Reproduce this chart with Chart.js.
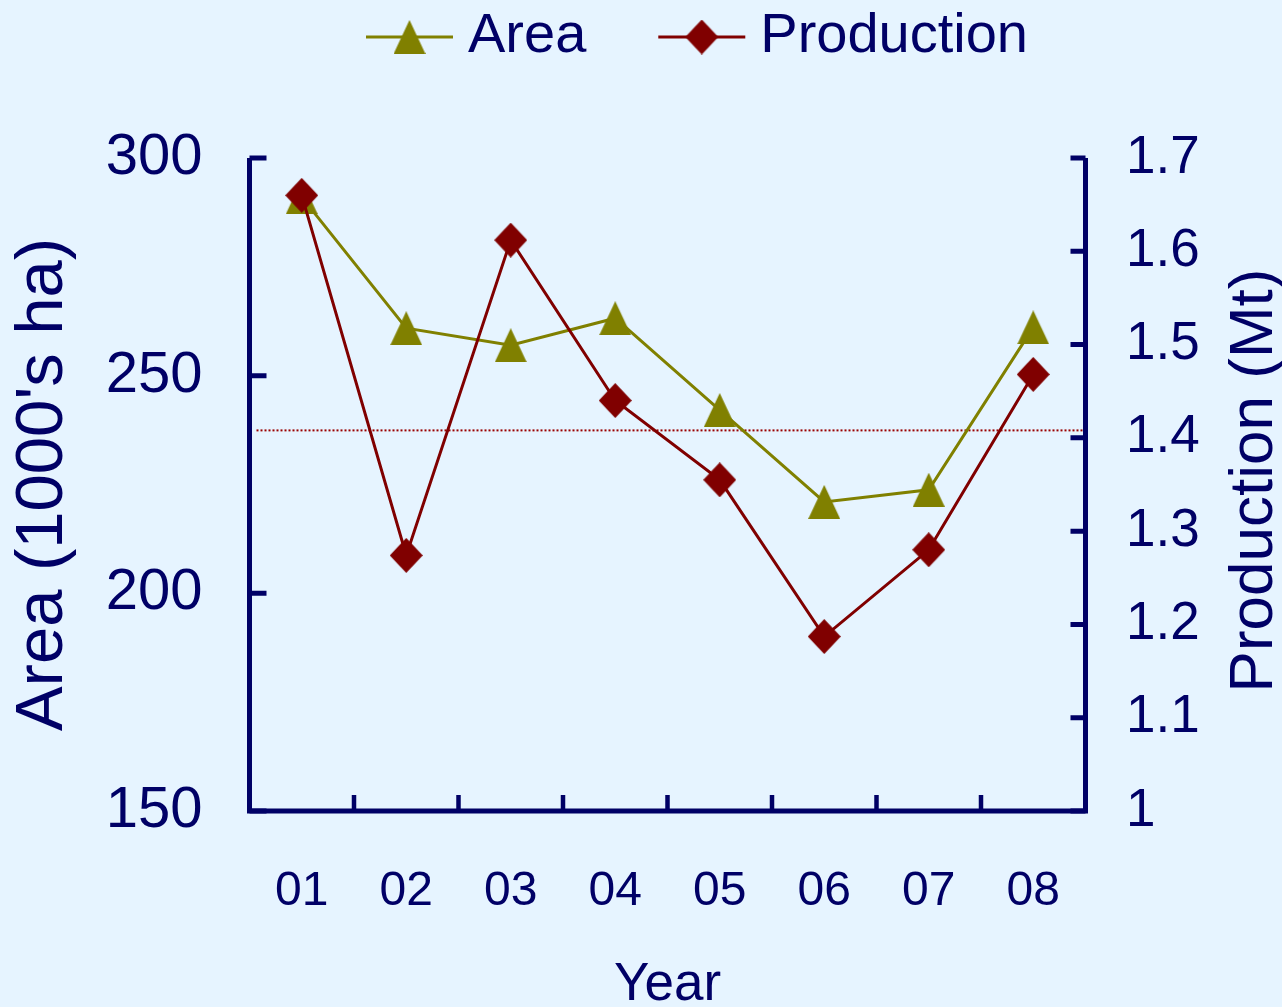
<!DOCTYPE html>
<html>
<head>
<meta charset="utf-8">
<script src="https://cdn.jsdelivr.net/npm/chart.js@4.4.1/dist/chart.umd.min.js"></script>
<style>
  html, body { margin: 0; padding: 0; background: #E6F4FF; }
  #wrap { width: 1282px; height: 1007px; }
</style>
</head>
<body>
<div id="wrap"><canvas id="chart" width="1282" height="1007"></canvas></div>
<script>
// Harvested area and production by year
const years = ['01', '02', '03', '04', '05', '06', '07', '08'];
const areaValues = [291.0, 260.9, 257.0, 263.2, 242.1, 221.0, 223.8, 261.1];
const productionValues = [1.660, 1.274, 1.612, 1.440, 1.355, 1.187, 1.280, 1.468];
const productionMean = 1.408;

const areaTicks = [150, 200, 250, 300];
const productionTicks = [1.0, 1.1, 1.2, 1.3, 1.4, 1.5, 1.6, 1.7];
const productionTickLabels = ['1', '1.1', '1.2', '1.3', '1.4', '1.5', '1.6', '1.7'];

const NAVY = '#000066';
const OLIVE = '#808000';
const MAROON = '#800000';
const BG = '#E6F4FF';
const SANS = "'Liberation Sans', Arial, Helvetica, sans-serif";
const NARROW = "'Liberation Sans Narrow', 'Arial Narrow', 'Liberation Sans', sans-serif";

// Marker glyphs
function makeMarker(shape, w, h, color) {
  const c = document.createElement('canvas');
  c.width = w; c.height = h;
  const g = c.getContext('2d');
  g.fillStyle = color;
  g.beginPath();
  if (shape === 'triangle') {
    g.moveTo(w / 2, 0); g.lineTo(w, h); g.lineTo(0, h);
  } else {
    g.moveTo(w / 2, 0); g.lineTo(w, h / 2); g.lineTo(w / 2, h); g.lineTo(0, h / 2);
  }
  g.closePath();
  g.fill();
  return c;
}
const triangleMarker = makeMarker('triangle', 32, 34, OLIVE);
const diamondMarker = makeMarker('diamond', 33, 35, MAROON);

const background = {
  id: 'background',
  beforeDraw(chart) {
    const ctx = chart.ctx;
    ctx.save();
    ctx.fillStyle = BG;
    ctx.fillRect(0, 0, chart.width, chart.height);
    ctx.restore();
  }
};

// Dotted line at the mean production level
const meanLine = {
  id: 'meanLine',
  beforeDatasetsDraw(chart) {
    const { ctx, chartArea } = chart;
    const y = chart.scales.y1.getPixelForValue(productionMean);
    ctx.save();
    ctx.strokeStyle = '#9A0000';
    ctx.lineWidth = 2;
    ctx.setLineDash([2, 2]);
    ctx.beginPath();
    ctx.moveTo(chartArea.left + 7, y);
    ctx.lineTo(chartArea.right, y);
    ctx.stroke();
    ctx.restore();
  }
};

// Axis frame with inward tick marks
const frame = {
  id: 'frame',
  afterDraw(chart) {
    const { ctx, chartArea: a, scales } = chart;
    ctx.save();
    ctx.strokeStyle = NAVY;
    ctx.lineWidth = 5;
    ctx.lineJoin = 'miter';
    ctx.beginPath();
    ctx.moveTo(a.left, a.top);
    ctx.lineTo(a.left, a.bottom);
    ctx.lineTo(a.right, a.bottom);
    ctx.lineTo(a.right, a.top);
    ctx.stroke();

    ctx.beginPath();
    scales.y.ticks.forEach(t => {
      const y = scales.y.getPixelForValue(t.value);
      ctx.moveTo(a.left, y); ctx.lineTo(a.left + 17, y);
    });
    scales.y1.ticks.forEach(t => {
      const y = scales.y1.getPixelForValue(t.value);
      ctx.moveTo(a.right, y); ctx.lineTo(a.right - 15, y);
    });
    ctx.stroke();

    ctx.lineWidth = 4.5;
    ctx.beginPath();
    for (let i = 0; i < years.length - 1; i++) {
      const x = (scales.x.getPixelForValue(i) + scales.x.getPixelForValue(i + 1)) / 2;
      ctx.moveTo(x, a.bottom); ctx.lineTo(x, a.bottom - 16);
    }
    ctx.stroke();
    ctx.restore();
  }
};

// Right axis title, reading bottom to top
const rightTitle = {
  id: 'rightTitle',
  afterDraw(chart) {
    const { ctx, chartArea: a } = chart;
    ctx.save();
    ctx.translate(1254.5, (a.top + a.bottom) / 2 - 4);
    ctx.rotate(-Math.PI / 2);
    ctx.fillStyle = NAVY;
    ctx.font = '62px ' + SANS;
    ctx.textAlign = 'center';
    ctx.textBaseline = 'middle';
    ctx.fillText('Production (Mt)', 0, 0);
    ctx.restore();
  }
};

// Legend: line sample with marker, then label
const lineLegend = {
  id: 'lineLegend',
  afterDraw(chart) {
    const ctx = chart.ctx;
    const y = 37;
    let x = 366;
    ctx.save();
    ctx.font = '56px ' + SANS;
    ctx.textBaseline = 'middle';
    ctx.textAlign = 'left';
    chart.data.datasets.forEach(ds => {
      ctx.strokeStyle = ds.borderColor;
      ctx.lineWidth = 3;
      ctx.beginPath();
      ctx.moveTo(x, y); ctx.lineTo(x + 87, y);
      ctx.stroke();
      const m = ds.pointStyle;
      ctx.drawImage(m, x + 43.5 - m.width / 2, y - m.height / 2);
      ctx.fillStyle = NAVY;
      const tx = x + 102;
      ctx.fillText(ds.label, tx, y);
      x = tx + ctx.measureText(ds.label).width + 72;
    });
    ctx.restore();
  }
};

new Chart(document.getElementById('chart'), {
  type: 'line',
  data: {
    labels: years,
    datasets: [
      {
        label: 'Area',
        data: areaValues,
        yAxisID: 'y',
        borderColor: OLIVE,
        backgroundColor: OLIVE,
        borderWidth: 3,
        tension: 0,
        fill: false,
        pointStyle: triangleMarker,
        pointRadius: 17,
        order: 1
      },
      {
        label: 'Production',
        data: productionValues,
        yAxisID: 'y1',
        borderColor: MAROON,
        backgroundColor: MAROON,
        borderWidth: 3,
        tension: 0,
        fill: false,
        pointStyle: diamondMarker,
        pointRadius: 17,
        order: 0
      }
    ]
  },
  options: {
    responsive: false,
    animation: false,
    devicePixelRatio: 1,
    events: [],
    layout: { padding: { top: 158, left: 0, right: 0, bottom: 0 } },
    plugins: {
      legend: { display: false },
      tooltip: { enabled: false }
    },
    scales: {
      x: {
        type: 'category',
        offset: true,
        grid: { display: false, drawTicks: false },
        border: { display: false },
        ticks: {
          color: NAVY,
          font: { family: NARROW, size: 48 },
          padding: 52,
          maxRotation: 0,
          minRotation: 0,
          autoSkip: false
        },
        title: {
          display: true,
          text: 'Year',
          color: NAVY,
          font: { family: NARROW, size: 53, lineHeight: 1 },
          padding: { top: 0, bottom: -5 }
        },
        afterFit(s) { s.height = 196; }
      },
      y: {
        position: 'left',
        min: 150,
        max: 300,
        afterBuildTicks(s) { s.ticks = areaTicks.map(v => ({ value: v })); },
        grid: { display: false, drawTicks: false },
        border: { display: false },
        ticks: {
          color: NAVY,
          font: { family: SANS, size: 58 },
          padding: 47
        },
        title: {
          display: true,
          text: "Area (1000's ha)",
          color: NAVY,
          font: { family: SANS, size: 67, lineHeight: 1 },
          padding: { top: 10, bottom: 0 }
        },
        afterFit(s) { s.width = 249.5; }
      },
      y1: {
        position: 'right',
        min: 1,
        max: 1.7,
        afterBuildTicks(s) { s.ticks = productionTicks.map(v => ({ value: v })); },
        grid: { display: false, drawTicks: false },
        border: { display: false },
        ticks: {
          color: NAVY,
          font: { family: SANS, size: 53 },
          padding: 40.5,
          callback: (v, i) => productionTickLabels[i]
        },
        afterFit(s) { s.width = 196.5; }
      }
    }
  },
  plugins: [background, meanLine, frame, rightTitle, lineLegend]
});
</script>
</body>
</html>
